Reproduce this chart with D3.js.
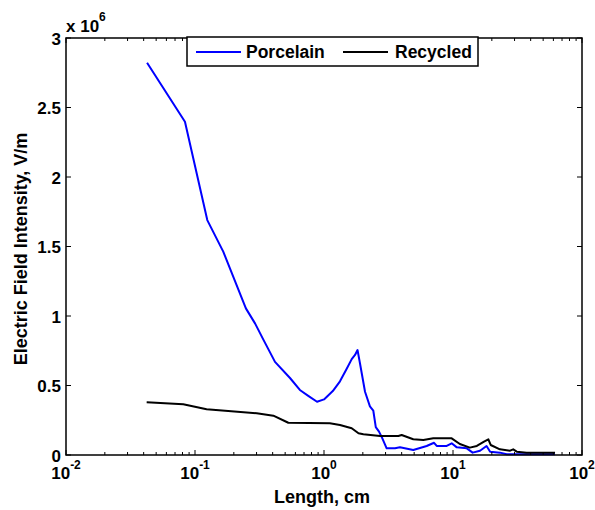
<!DOCTYPE html>
<html>
<head>
<meta charset="utf-8">
<script src="https://cdn.jsdelivr.net/npm/d3@7"></script>
<style>
  html, body { margin: 0; padding: 0; background: #fff; }
  svg { display: block; }
  text { font-family: "Liberation Sans", Arial, sans-serif; font-weight: bold; fill: #000; }
</style>
</head>
<body>
<svg id="chart" width="595" height="510"></svg>
<script>
// Electric field intensity along the insulator surface (V/m) vs. length (cm)
const porcelainLength = [0.0425, 0.0836, 0.1245, 0.1656, 0.248, 0.292, 0.338, 0.417, 0.545, 0.65, 0.76, 0.883,
  1.0, 1.17, 1.33, 1.5, 1.64, 1.74, 1.82, 1.9, 2.08, 2.27, 2.41, 2.52, 2.67, 2.8, 3.06, 3.55, 3.88, 4.92, 6.25, 7.13,
  7.48, 8.94, 9.77, 10.7, 12.8, 14.2, 16.2, 18.2, 19.4, 23.1, 26.1, 61.8];
const porcelainField = [2.822e6, 2.398e6, 1.69e6, 1.463e6, 1.055e6, 0.947e6, 0.832e6, 0.67e6, 0.554e6, 0.468e6,
  0.424e6, 0.383e6, 0.40e6, 0.46e6, 0.53e6, 0.62e6, 0.69e6, 0.72e6, 0.755e6, 0.66e6, 0.455e6, 0.35e6, 0.32e6, 0.2e6,
  0.168e6, 0.13e6, 0.048e6, 0.048e6, 0.055e6, 0.036e6, 0.065e6, 0.088e6, 0.065e6, 0.065e6, 0.084e6, 0.055e6,
  0.048e6, 0.017e6, 0.031e6, 0.065e6, 0.024e6, 0.017e6, 0.005e6, 0.005e6];

const recycledLength = [0.0422, 0.0811, 0.123, 0.301, 0.405, 0.529, 1.11, 1.33, 1.64, 1.85, 2.02, 2.72, 3.77,
  4.0, 4.92, 5.89, 7.03, 9.77, 11.3, 13.5, 15.3, 17.4, 18.8, 19.6, 23.1, 27.7, 29.3, 31.2, 37.2, 61.8];
const recycledField = [0.379e6, 0.365e6, 0.329e6, 0.30e6, 0.283e6, 0.232e6, 0.228e6, 0.216e6, 0.192e6, 0.156e6,
  0.149e6, 0.137e6, 0.137e6, 0.144e6, 0.113e6, 0.108e6, 0.12e6, 0.12e6, 0.079e6, 0.053e6, 0.065e6, 0.096e6,
  0.113e6, 0.072e6, 0.041e6, 0.031e6, 0.041e6, 0.024e6, 0.017e6, 0.017e6];

const seriesNames = ["Porcelain", "Recycled"];
const seriesColors = ["#0000ff", "#000000"];
const xTickExponents = [-2, -1, 0, 1, 2];
const yTickValues = [0, 0.5, 1, 1.5, 2, 2.5, 3];

const svg = d3.select("#chart");
const plotLeft = 66, plotRight = 582, plotTop = 38, plotBottom = 455;

const x = d3.scaleLog().domain([1e-2, 1e2]).range([plotLeft, plotRight]);
const y = d3.scaleLinear().domain([0, 3e6]).range([plotBottom, plotTop]);

// Series lines
const line = d3.line().x(d => x(d[0])).y(d => y(d[1]));
const series = [
  d3.zip(porcelainLength, porcelainField),
  d3.zip(recycledLength, recycledField)
];
series.forEach((s, i) => {
  svg.append("path")
    .datum(s)
    .attr("d", line)
    .attr("fill", "none")
    .attr("stroke", seriesColors[i])
    .attr("stroke-width", 2)
    .attr("stroke-linejoin", "round");
});

// Inward ticks on all four sides
const ticks = svg.append("g").attr("stroke", "#000").attr("stroke-width", 1);
const minorX = [];
for (let e = -2; e < 2; e++) for (let m = 2; m <= 9; m++) minorX.push(m * Math.pow(10, e));
minorX.forEach(v => {
  ticks.append("line").attr("x1", x(v)).attr("x2", x(v)).attr("y1", plotBottom).attr("y2", plotBottom - 3);
  ticks.append("line").attr("x1", x(v)).attr("x2", x(v)).attr("y1", plotTop).attr("y2", plotTop + 3);
});
xTickExponents.forEach(e => {
  const v = Math.pow(10, e);
  ticks.append("line").attr("x1", x(v)).attr("x2", x(v)).attr("y1", plotBottom).attr("y2", plotBottom - 5);
  ticks.append("line").attr("x1", x(v)).attr("x2", x(v)).attr("y1", plotTop).attr("y2", plotTop + 5);
});
yTickValues.forEach(v => {
  ticks.append("line").attr("x1", plotLeft).attr("x2", plotLeft + 5).attr("y1", y(v * 1e6)).attr("y2", y(v * 1e6));
  ticks.append("line").attr("x1", plotRight).attr("x2", plotRight - 5).attr("y1", y(v * 1e6)).attr("y2", y(v * 1e6));
});

// Axes box
svg.append("rect")
  .attr("x", plotLeft).attr("y", plotTop)
  .attr("width", plotRight - plotLeft).attr("height", plotBottom - plotTop)
  .attr("fill", "none").attr("stroke", "#000").attr("stroke-width", 1.5);

// Y tick labels
yTickValues.forEach(v => {
  svg.append("text")
    .attr("x", plotLeft - 5).attr("y", y(v * 1e6) + 6.5)
    .attr("text-anchor", "end")
    .attr("font-size", 17)
    .text(v);
});

// X tick labels as powers of ten
xTickExponents.forEach(e => {
  const t = svg.append("text")
    .attr("x", x(Math.pow(10, e))).attr("y", 479)
    .attr("text-anchor", "middle")
    .attr("font-size", 17);
  t.append("tspan").text("10");
  t.append("tspan").attr("dy", -10).attr("font-size", 12).text(e);
});

// Exponent multiplier
const mult = svg.append("text").attr("x", 66).attr("y", 32).attr("font-size", 17);
mult.append("tspan").text("x 10");
mult.append("tspan").attr("dy", -11).attr("font-size", 12).text("6");

// Axis titles
svg.append("text")
  .attr("x", 322).attr("y", 503)
  .attr("text-anchor", "middle")
  .attr("font-size", 18)
  .text("Length, cm");
svg.append("text")
  .attr("transform", `translate(27,249) rotate(-90)`)
  .attr("text-anchor", "middle")
  .attr("font-size", 18)
  .text("Electric Field Intensity, V/m");

// Legend
const legend = svg.append("g");
legend.append("rect")
  .attr("x", 187).attr("y", 37).attr("width", 291).attr("height", 29)
  .attr("fill", "#fff").attr("stroke", "#000").attr("stroke-width", 1.5);
const legendItems = [
  { lineX: 196, textX: 246 },
  { lineX: 343, textX: 395 }
];
legendItems.forEach((it, i) => {
  legend.append("line")
    .attr("x1", it.lineX).attr("x2", it.lineX + 45)
    .attr("y1", 52).attr("y2", 52)
    .attr("stroke", seriesColors[i]).attr("stroke-width", 2);
  legend.append("text")
    .attr("x", it.textX).attr("y", 58)
    .attr("font-size", 17.5)
    .text(seriesNames[i]);
});
</script>
</body>
</html>
